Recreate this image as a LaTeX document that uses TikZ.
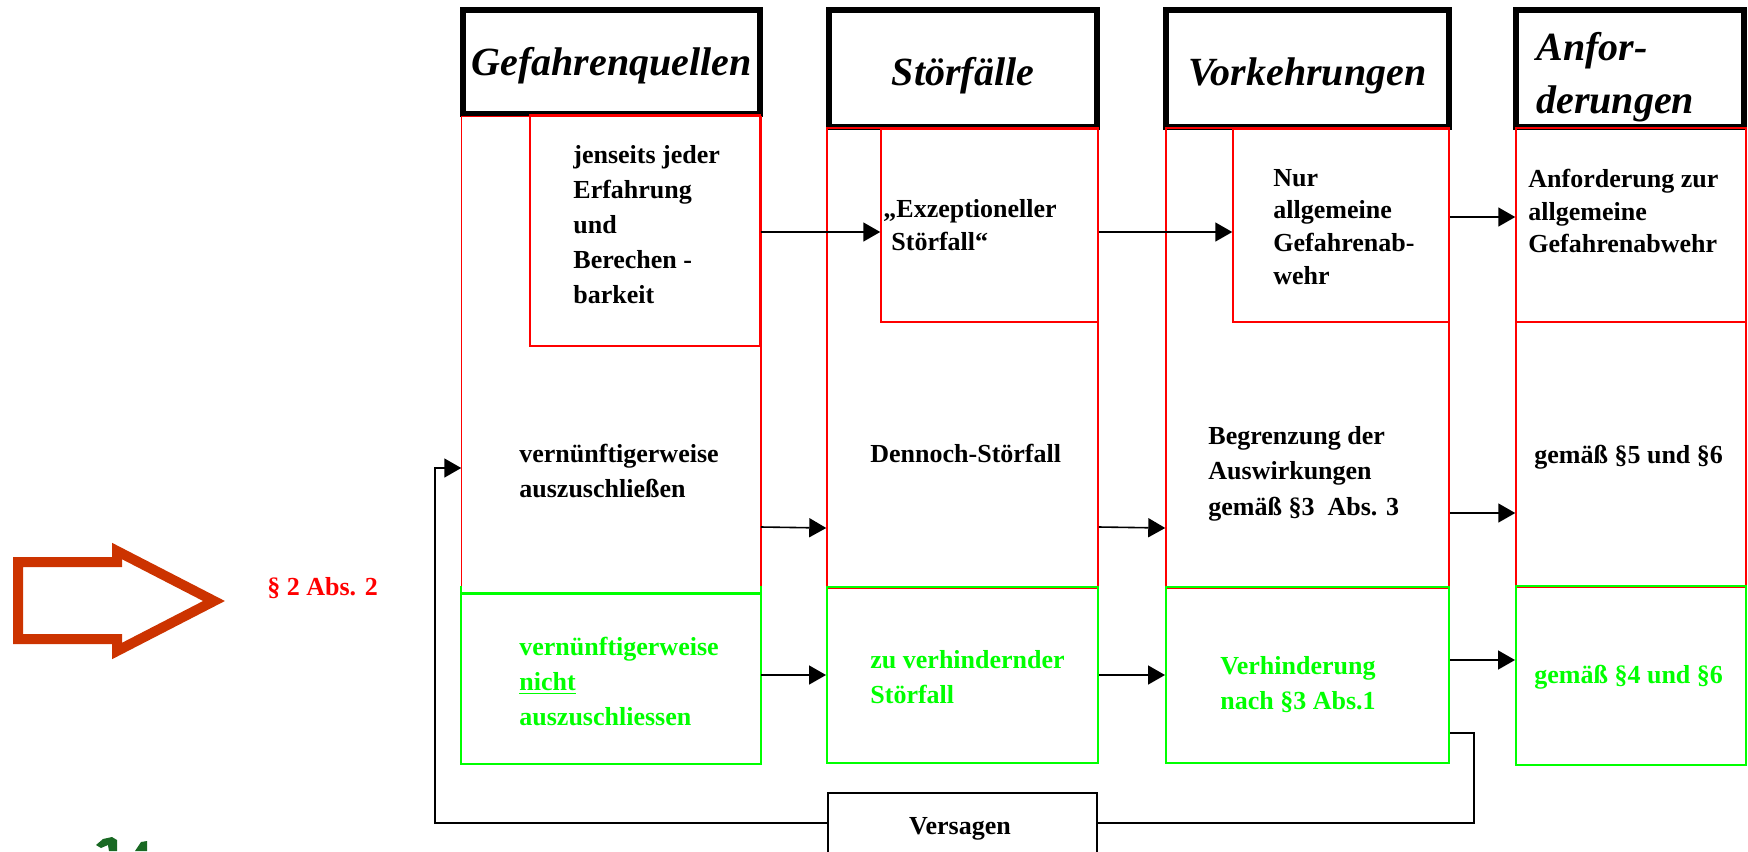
\documentclass[tikz,border=0pt]{standalone}
\usepackage{fontspec}
\setmainfont{Liberation Serif}
\usetikzlibrary{arrows.meta}
\definecolor{redline}{RGB}{255,0,0}
\definecolor{greenline}{RGB}{0,255,0}
\definecolor{arrowred}{RGB}{204,51,0}
\definecolor{logogreen}{RGB}{25,105,35}

\begin{document}
\begin{tikzpicture}[x=0.5pt,y=-0.5pt,
  hdr/.style={draw=black, line width=3pt, fill=white, inner sep=0pt},
  hdrtext/.style={inner sep=0pt, align=left,
    font=\fontsize{20}{26.5}\selectfont\bfseries\itshape},
  redbox/.style={draw=redline, line width=0.75pt, inner sep=0pt},
  greenbox/.style={draw=greenline, line width=1pt, inner sep=0pt},
  plainbox/.style={draw=black, line width=0.75pt, inner sep=0pt},
  txt/.style={inner sep=0pt, anchor=west, align=left,
    font=\fontsize{13}{17.5}\selectfont\bfseries},
  txtc/.style={txt, font=\fontsize{13}{16.4}\selectfont\bfseries},
  gtxt/.style={txt, text=greenline},
  conn/.style={draw=black, line width=0.8pt},
  arr/.style={conn, -{Triangle[length=8.5pt,width=9.5pt]}},
]
\useasboundingbox (0,0) rectangle (1748,851);

% column headers
\node[hdr, minimum width=148.5pt, minimum height=52pt] (h1) at (611.5,62) {};
\node[hdr, minimum width=134pt, minimum height=58.5pt] (h2) at (963,68.5) {};
\node[hdr, minimum width=141.5pt, minimum height=58.5pt] (h3) at (1307.5,68.5) {};
\node[hdr, minimum width=114pt, minimum height=58.5pt] (h4) at (1630,68.5) {};
\node[hdrtext] (h1t) at (h1.center |- 0,65.5) {Gefahrenquellen};
\node[hdrtext] (h2t) at (h2.center |- 0,75.5) {Störfälle};
\node[hdrtext] (h3t) at (h3.center |- 0,75.5) {Vorkehrungen};
\node[hdrtext, anchor=west] (h4t) at (1536,77.5) {Anfor-\\derungen};

% red column frames (the first one is open at the bottom)
\node[redbox, draw=none, minimum width=149pt, minimum height=235pt] (c1) at (611,352) {};
\draw[redline, line width=0.75pt] (c1.south west) -- (c1.north west) -- (c1.north east) -- (c1.south east);
\node[redbox, minimum width=135.5pt, minimum height=230pt] (c2) at (962.5,358) {};
\node[redbox, minimum width=141.5pt, minimum height=230pt] (c3) at (1307.5,358) {};
\node[redbox, minimum width=115pt, minimum height=229.5pt] (c4) at (1631,357.5) {};

% upper inner boxes
\node[redbox, minimum width=115pt, minimum height=115.5pt] (i1) at (645,230.5) {};
\node[redbox, minimum width=108.5pt, minimum height=96.5pt] (i2) at (989.5,225.5) {};
\node[redbox, minimum width=108pt, minimum height=96.5pt] (i3) at (1341,225.5) {};
\node[redbox, minimum width=115pt, minimum height=97pt] (i4) at (1631,225) {};

% green boxes
\node[greenbox, draw=none, minimum width=149pt, minimum height=88pt] (g1) at (611,675) {};
\draw[greenline, line width=1pt] (g1.north west) -- (g1.south west) -- (g1.south east) -- (g1.north east);
\draw[greenline, line width=1.5pt] (g1.west |- 0,593) -- (g1.east |- 0,593);
\node[greenbox, minimum width=135.5pt, minimum height=88pt] (g2) at (962.5,675) {};
\node[greenbox, minimum width=141.5pt, minimum height=88pt] (g3) at (1307.5,675) {};
\node[greenbox, minimum width=115pt, minimum height=89.5pt] (g4) at (1631,675.5) {};

% failure box
\node[plainbox, minimum width=134.5pt, minimum height=43.5pt] (v) at (962.5,836.5) {};

% texts
\node[txt] (t1) at (573,225) {jenseits jeder\\Erfahrung\\und\\Berechen -\\barkeit};
\node[txtc] (t2) at (883,225) {„Exzeptioneller\\\hspace{4pt}Störfall“};
\node[txtc] (t3) at (1273,227) {Nur\\allgemeine\\Gefahrenab-\\wehr};
\node[txtc] (t4) at (1528,211) {Anforderung zur\\allgemeine\\Gefahrenabwehr};
\node[txt] (t5) at (519,470.5) {vernünftigerweise\\auszuschließen};
\node[txt] (t6) at (870,453) {Dennoch-Störfall};
\node[txt, font=\fontsize{13}{17.75}\selectfont\bfseries] (t7) at (1208,473.5) {Begrenzung der\\Auswirkungen\\gemäß §3~~Abs. 3};
\node[txt] (t8) at (1534,457) {gemäß §5 und §6};
\node[gtxt] (t9) at (519,681) {vernünftigerweise\\\underline{nicht}\\auszuschliessen};
\node[gtxt] (t10) at (870,677.5) {zu verhindernder\\Störfall};
\node[gtxt] (t11) at (1220,684.5) {Verhinderung\\nach §3 Abs.1};
\node[gtxt] (t12) at (1534,677) {gemäß §4 und §6};
\node[txt, anchor=center] (t13) at (960,829) {Versagen};
\node[txt, text=redline] (t14) at (267,588) {§ 2 Abs. 2};

% flow arrows
\draw[arr] (i1.east |- 0,232) -- (i2.west |- 0,232);
\draw[arr] (i2.east |- 0,232) -- (i3.west |- 0,232);
\draw[arr] (i3.east |- 0,217) -- (i4.west |- 0,217);
\draw[arr] (c1.east |- 0,527) -- (c2.west |- 0,528);
\draw[arr] (c2.east |- 0,527) -- (c3.west |- 0,528);
\draw[arr] (c3.east |- 0,513) -- (c4.west |- 0,513);
\draw[arr] (g1.east |- 0,675) -- (g2.west |- 0,675);
\draw[arr] (g2.east |- 0,675) -- (g3.west |- 0,675);
\draw[arr] (g3.east |- 0,660) -- (g4.west |- 0,660);

% feedback loop through the failure box
\coordinate (fbr) at (1474,823);
\coordinate (fbl) at (435,823);
\draw[conn] (g3.east |- 0,733) -| (fbr) -- (v.east |- fbr);
\draw[arr] (v.west |- fbl) -- (fbl) |- (c1.west |- 0,468);

% hollow block arrow
\draw[arrowred, line width=5pt, miter limit=10]
  (18,562) -- (117,562) -- (117,551) -- (214,601) -- (117,651) -- (117,639) -- (18,639) -- cycle;

% logo fragment at the lower edge
\fill[logogreen] (96,845) -- (103,839) -- (112,837) -- (117,840) -- (117,851) -- (109,851) -- (108,845) -- (101,848) -- cycle;
\fill[logogreen] (135,851) -- (141,842) -- (147,841) -- (147,851) -- cycle;
\end{tikzpicture}
\end{document}
